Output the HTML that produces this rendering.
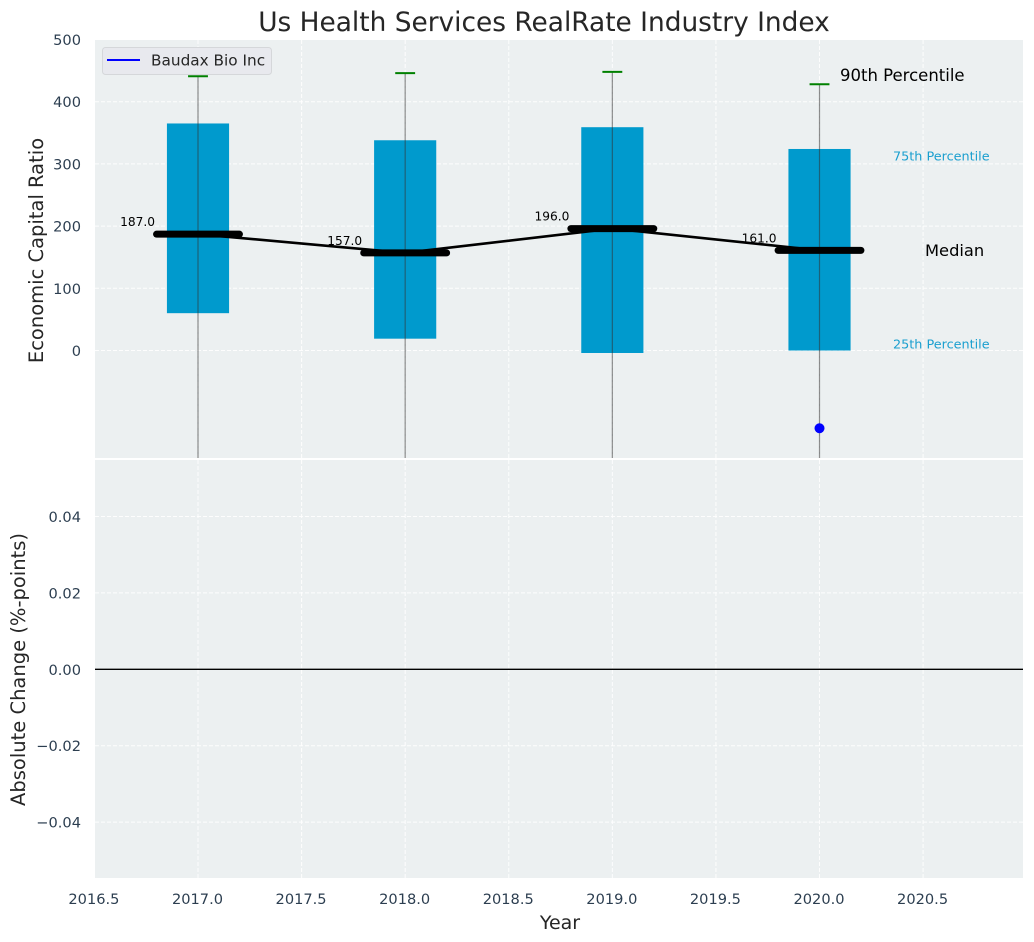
<!DOCTYPE html>
<html lang="en">
<head>
<meta charset="utf-8">
<title>Us Health Services RealRate Industry Index</title>
<style>
html,body{margin:0;padding:0;background:#fff;width:1034px;height:942px;overflow:hidden}
svg{display:block;font-family:"DejaVu Sans","Liberation Sans",sans-serif}
</style>
</head>
<body>
<svg id="chart" xmlns="http://www.w3.org/2000/svg" width="1034" height="942" viewBox="0 0 1034 942">
  <defs>
    <clipPath id="top-clip"><rect x="95" y="40" width="928" height="418"/></clipPath>
  </defs>
  <rect x="95" y="40" width="928" height="418" fill="#ecf0f1"/>
  <rect x="95" y="460" width="928" height="418" fill="#ecf0f1"/>
  <g id="grid"></g>
  <g id="marks" clip-path="url(#top-clip)"></g>
  <g id="ticks"></g>
  <text x="544" y="31" font-size="26.4" fill="#262626" text-anchor="middle">Us Health Services RealRate Industry Index</text>
  <text transform="translate(43,250.5) rotate(-90)" font-size="19.5" fill="#262626" text-anchor="middle">Economic Capital Ratio</text>
  <text transform="translate(25,669.5) rotate(-90)" font-size="19.5" fill="#262626" text-anchor="middle">Absolute Change (%-points)</text>
  <text x="560" y="929" font-size="19" fill="#262626" text-anchor="middle">Year</text>
  <g>
    <rect x="102.5" y="47.5" width="169" height="27" rx="3" fill="#e8e9ee" stroke="#d5d7da"/>
    <line x1="107" y1="60" x2="140" y2="60" stroke="#0000ff" stroke-width="2"/>
    <text x="151" y="65.5" font-size="15.3" fill="#262626">Baudax Bio Inc</text>
  </g>
  <text x="840" y="81" font-size="16.5" fill="#000">90th Percentile</text>
  <text x="893" y="160.5" font-size="12.8" fill="#1a9fcf">75th Percentile</text>
  <text x="925" y="256" font-size="16.3" fill="#000">Median</text>
  <text x="893" y="348.5" font-size="12.8" fill="#1a9fcf">25th Percentile</text>
</svg>
<script>
const years = [2017, 2018, 2019, 2020];
const p90 = [441, 446, 448, 428];
const p75 = [365, 338, 359, 324];
const medians = [187, 157, 196, 161];
const p25 = [60, 19, -4, 0];
const p10 = [-200, -200, -200, -200];
const companyValues = [null, null, null, -125];
const xTicks = [2016.5, 2017, 2017.5, 2018, 2018.5, 2019, 2019.5, 2020, 2020.5];
const upperTicks = [0, 100, 200, 300, 400, 500];
const lowerTicks = [-0.04, -0.02, 0, 0.02, 0.04];

const NS = 'http://www.w3.org/2000/svg';
const sx = v => 198 + (v - 2017) * 207.17;
const syTop = v => 350.5 - v * 0.622;
const syBottom = v => 669.3 - v * 3820;

function make(tag, attrs, parent, text) {
  const n = document.createElementNS(NS, tag);
  for (const k in attrs) n.setAttribute(k, attrs[k]);
  if (text !== undefined) n.textContent = text;
  parent.appendChild(n);
  return n;
}
const grid = document.getElementById('grid');
const marks = document.getElementById('marks');
const ticks = document.getElementById('ticks');
const gridStyle = {stroke: '#ffffff', 'stroke-width': 1, 'stroke-dasharray': '4 2', opacity: 0.9};
const tickColor = '#2c3e50';

xTicks.forEach(v => {
  if (v > 2016.5) {
    [[40, 458], [460, 878]].forEach(r => {
      const g = make('line', Object.assign({x1: sx(v), x2: sx(v), y1: r[0], y2: r[1]}, gridStyle), grid);
      
      
    });
  }
  const t = make('text', {x: sx(v) - 0.5, y: 904, 'font-size': 14.6, fill: tickColor, 'text-anchor': 'middle'}, ticks, v.toFixed(1));
  
  
});

upperTicks.forEach(v => {
  if (v < 500) {
    const g = make('line', Object.assign({x1: 95, x2: 1023, y1: syTop(v), y2: syTop(v)}, gridStyle), grid);
    
    
  }
  const t = make('text', {x: 81, y: syTop(v) + 5.5, 'font-size': 14.6, fill: tickColor, 'text-anchor': 'end'}, ticks, String(v));
  
  
});

lowerTicks.forEach(v => {
  const g = make('line', Object.assign({x1: 95, x2: 1023, y1: syBottom(v), y2: syBottom(v)}, gridStyle), grid);
  
  
  const label = (v < 0 ? '\u2212' : '') + Math.abs(v).toFixed(2);
  const t = make('text', {x: 81, y: syBottom(v) + 5.5, 'font-size': 14.6, fill: tickColor, 'text-anchor': 'end'}, ticks, label);
  
  
});

const zero = make('line', {x1: 95, x2: 1023, y1: syBottom(0), y2: syBottom(0), stroke: '#000', 'stroke-width': 1.4}, ticks);



years.forEach((y, i) => {
  const box = make('rect', {
    x: sx(y - 0.15), width: sx(y + 0.15) - sx(y - 0.15),
    y: syTop(p75[i]), height: syTop(p25[i]) - syTop(p75[i]),
    fill: '#009acd'
  }, marks);
  
  

  const whisker = make('line', {
    x1: sx(y), x2: sx(y), y1: syTop(p90[i]), y2: syTop(p10[i]),
    stroke: '#333', 'stroke-opacity': 0.55, 'stroke-width': 1.2
  }, marks);
  
  

  const cap = make('line', {
    x1: sx(y - 0.048), x2: sx(y + 0.048), y1: syTop(p90[i]), y2: syTop(p90[i]),
    stroke: '#008000', 'stroke-width': 2
  }, marks);
  
  
});

const medianPath = make('polyline', {
  points: years.map((y, i) => sx(y) + ',' + syTop(medians[i])).join(' '),
  fill: 'none', stroke: '#000', 'stroke-width': 2.6
}, marks);



years.forEach((y, i) => {
  const bar = make('line', {
    x1: sx(y - 0.2), x2: sx(y + 0.2), y1: syTop(medians[i]), y2: syTop(medians[i]),
    stroke: '#000', 'stroke-width': 7, 'stroke-linecap': 'round'
  }, marks);
  
  

  const label = make('text', {
    x: sx(y) - 43, y: syTop(medians[i]) - 8,
    'font-size': 12.2, fill: '#000', 'text-anchor': 'end'
  }, ticks, medians[i].toFixed(1));
  
  

  if (companyValues[i] !== null) {
    const dot = make('circle', {cx: sx(y), cy: syTop(companyValues[i]), r: 5, fill: '#0000ff'}, marks);
    
    
  }
});
</script>
</body>
</html>
